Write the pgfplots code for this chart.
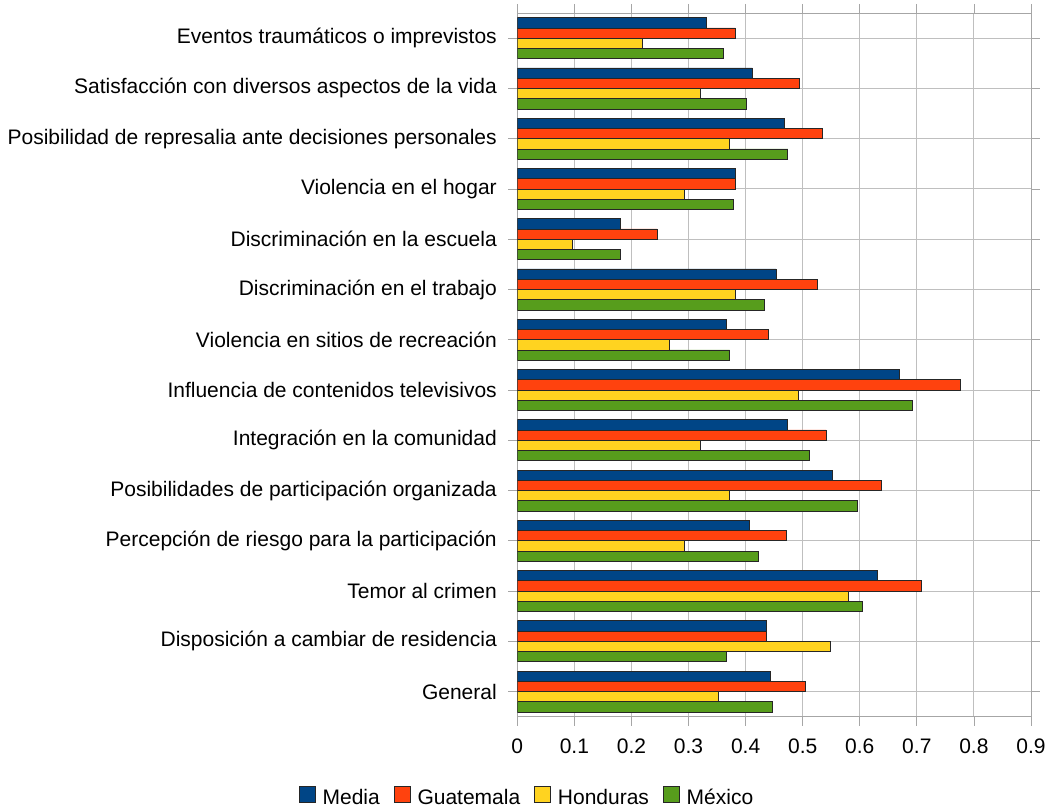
\documentclass[border=0pt]{standalone}
\usepackage{fontspec}
\setmainfont{Liberation Sans}
\usepackage{pgfplots}
\usepackage{pgfplotstable}
\pgfplotsset{compat=1.18}
\definecolor{cMedia}{HTML}{004586}
\definecolor{cGuat}{HTML}{FF420E}
\definecolor{cHond}{HTML}{FFD320}
\definecolor{cMex}{HTML}{579D1C}
\pgfplotstableread{
y media guat hond mex
0 0.331 0.382 0.219 0.361
1 0.412 0.494 0.321 0.402
2 0.467 0.535 0.372 0.474
3 0.382 0.382 0.293 0.378
4 0.181 0.245 0.096 0.181
5 0.453 0.525 0.382 0.433
6 0.366 0.439 0.266 0.372
7 0.670 0.777 0.493 0.693
8 0.473 0.541 0.321 0.511
9 0.552 0.638 0.372 0.596
10 0.406 0.471 0.293 0.423
11 0.631 0.708 0.580 0.604
12 0.436 0.436 0.549 0.366
13 0.443 0.504 0.352 0.447
}\datatable
\begin{document}
\begin{tikzpicture}[font=\fontsize{21}{25}\selectfont]
\begin{axis}[
  at={(517.3pt,93.3pt)}, anchor=south west,
  scale only axis, width=513.7pt, height=703.7pt,
  xmin=0, xmax=0.9, ymin=-0.5, ymax=13.5, y dir=reverse,
  xbar=0pt, bar width=10.25pt,
  xtick={0,0.1,0.2,0.3,0.4,0.5,0.6,0.7,0.8,0.9},
  xticklabels={0,0.1,0.2,0.3,0.4,0.5,0.6,0.7,0.8,0.9},
  xticklabel style={yshift=-10pt},
  ytick={0,1,2,3,4,5,6,7,8,9,10,11,12,13},
  yticklabels={Eventos traumáticos o imprevistos,
    Satisfacción con diversos aspectos de la vida,
    Posibilidad de represalia ante decisiones personales,
    Violencia en el hogar,
    Discriminación en la escuela,
    Discriminación en el trabajo,
    Violencia en sitios de recreación,
    Influencia de contenidos televisivos,
    Integración en la comunidad,
    Posibilidades de participación organizada,
    Percepción de riesgo para la participación,
    Temor al crimen,
    Disposición a cambiar de residencia,
    General},
  yticklabel style={xshift=-8pt},
  tick align=outside, major tick length=9pt,
  tick style={color=black!35, line width=0.8pt},
  grid=major, major grid style={color=black!25, line width=0.9pt},
  axis line style={color=black!35, line width=0.9pt},
  legend columns=4, reverse legend,
  legend style={at={(0.019,-0.1141)}, anchor=center, draw=none, fill=none,
    /tikz/every odd column/.append style={column sep=5pt},
    /tikz/every even column/.append style={column sep=12pt}},
  legend image code/.code={\draw[#1, line width=0.7pt] (0pt,-4pt) rectangle (16pt,12pt);},
]
\addplot[fill=cMex, draw=black!85, line width=0.7pt] table[x=mex,y=y]{\datatable};
\addplot[fill=cHond, draw=black!85, line width=0.7pt] table[x=hond,y=y]{\datatable};
\addplot[fill=cGuat, draw=black!85, line width=0.7pt] table[x=guat,y=y]{\datatable};
\addplot[fill=cMedia, draw=black!85, line width=0.7pt] table[x=media,y=y]{\datatable};
\legend{México,Honduras,Guatemala,Media}
\end{axis}
\pgfresetboundingbox
\useasboundingbox (0,0) rectangle (1047pt,810pt);
\end{tikzpicture}
\end{document}
